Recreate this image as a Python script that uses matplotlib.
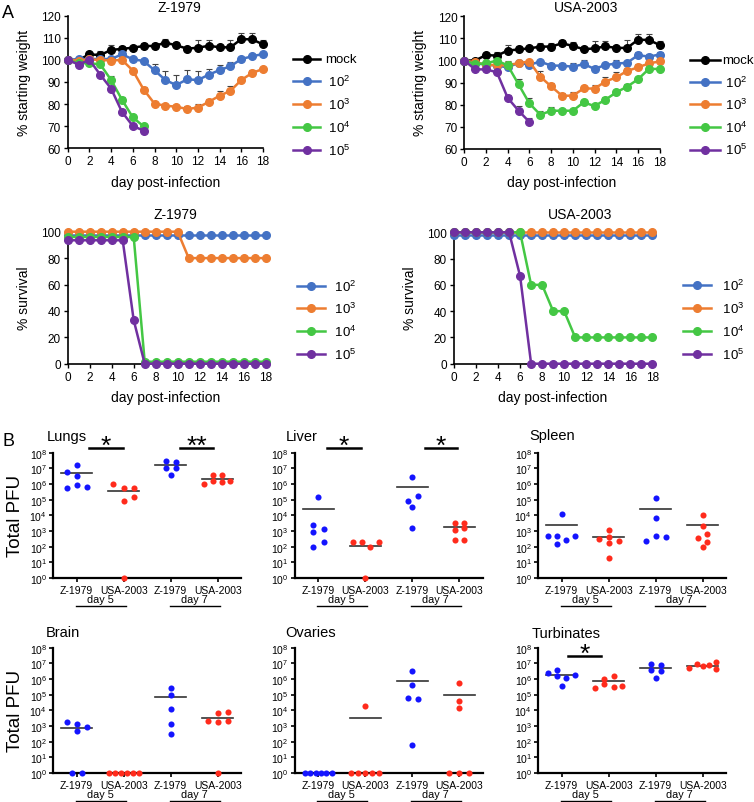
import numpy as np
import matplotlib
matplotlib.use('Agg')
import matplotlib.pyplot as plt
from matplotlib.transforms import blended_transform_factory

plt.rcParams['font.family'] = ['Liberation Sans', 'DejaVu Sans']

# ---------------- data: panel A, weight (% of starting weight) ----------------
days = list(range(19))
mock = [100, 100, 102.5, 102.2, 104.5, 105, 105.5, 106.3, 106.3, 107.8, 106.6, 105.1, 105.5, 106.4, 105.7, 105.7, 109.4, 109.3, 107]
mock_err = [0.3, 0.8, 1.0, 1.7, 2.4, 1.5, 1.0, 1.5, 1.5, 1.5, 1.6, 0.5, 3.4, 2.4, 0.5, 3.4, 2.7, 2.7, 2.0]

z_1e2 = [100, 100.3, 100.4, 100.4, 100.4, 102.5, 100.3, 99.5, 95.3, 90.9, 88.6, 91.2, 90.9, 93.3, 95.4, 97.1, 100.4, 101.6, 102.7]
z_1e3 = [100, 99.7, 100.2, 100, 99.7, 100, 95.2, 86.6, 80.2, 79.3, 78.8, 77.8, 78.4, 81, 83.8, 86, 90.9, 94.1, 95.9]
z_1e4 = [100, 98.5, 98.5, 98, 90.9, 82, 74, 69.9]
z_1e5 = [100, 97.9, 100, 93.3, 87, 76.5, 70.1, 68]
z_1e2_err = [0, 0.5, 0.5, 0.5, 0.5, 1.0, 0.5, 0.8, 3.0, 4.2, 4.5, 4.2, 3.9, 2.5, 2.5, 2.0, 1.0, 0.8, 0.5]
z_1e3_err = [0, 0.5, 0.5, 0.5, 0.5, 0.5, 0.8, 1.0, 0.8, 0.8, 1.0, 1.5, 1.5, 1.5, 2.3, 2.0, 1.5, 1.5, 0.8]
z_1e4_err = [0, 0.5, 0.5, 0.8, 1.8, 1.0, 1.0, 1.0]
z_1e5_err = [0, 0.5, 0.5, 0.8, 1.0, 1.0, 1.0, 0.8]

u_1e2 = [100, 98.8, 98.1, 97.7, 96.9, 99, 98.1, 99.5, 97.7, 97.7, 97.2, 98.4, 96.2, 98, 98.6, 99, 102.4, 101.8, 102.7]
u_1e3 = [100, 99.2, 98.1, 97.9, 97.8, 98.9, 99.5, 92.7, 88.3, 84.1, 84.1, 87.4, 87.3, 90.5, 92.4, 95.3, 96.9, 98.7, 99.6]
u_1e4 = [100, 98.4, 98.7, 100, 97.8, 89.2, 80.6, 75.5, 77.3, 77.3, 77.3, 81.1, 79.4, 82.3, 85.6, 88.2, 91.5, 96.2, 96.2]
u_1e5 = [100, 96, 96, 94.7, 83.1, 77.3, 72.2]
u_1e2_err = [0, 0.5, 0.5, 0.5, 0.5, 0.8, 0.5, 0.8, 1.0, 1.0, 1.5, 2.0, 1.5, 1.0, 1.5, 1.0, 1.5, 1.0, 1.0]
u_1e3_err = [0, 0.5, 0.5, 0.5, 0.5, 0.5, 0.5, 2.5, 1.5, 1.0, 1.5, 1.0, 1.5, 2.0, 2.5, 1.5, 1.5, 1.5, 1.0]
u_1e4_err = [0, 0.5, 0.5, 0.5, 1.8, 2.5, 2.5, 1.5, 1.5, 1.0, 1.0, 1.0, 1.0, 1.0, 1.0, 1.0, 1.0, 1.0, 1.0]
u_1e5_err = [0, 0.5, 0.5, 0.8, 1.5, 2.0, 2.0]

# ---------------- data: panel A, survival (%) ----------------
sz_1e2 = [97.5, 97.5, 97.5, 97.5, 97.5, 97.5, 97.5, 97.5, 97.5, 97.5, 97.5, 97.5, 97.5, 97.5, 97.5, 97.5, 97.5, 97.5, 97.5]
sz_1e3 = [100, 100, 100, 100, 100, 100, 100, 100, 100, 100, 100, 80, 80, 80, 80, 80, 80, 80, 80]
sz_1e4 = [96, 96, 96, 96, 96, 96, 96, 1.5, 1.5, 1.5, 1.5, 1.5, 1.5, 1.5, 1.5, 1.5, 1.5, 1.5, 1.5]
sz_1e5 = [93.5, 93.5, 93.5, 93.5, 93.5, 93.5, 33, 0, 0, 0, 0, 0, 0, 0, 0, 0, 0, 0, 0]

su_1e2 = [98, 98, 98, 98, 98, 98, 98, 98, 98, 98, 98, 98, 98, 98, 98, 98, 98, 98, 98]
su_1e3 = [100, 100, 100, 100, 100, 100, 100, 100, 100, 100, 100, 100, 100, 100, 100, 100, 100, 100, 100]
su_1e4 = [100, 100, 100, 100, 100, 100, 100, 60, 60, 40, 40, 20, 20, 20, 20, 20, 20, 20, 20]
su_1e5 = [100, 100, 100, 100, 100, 100, 66.7, 0, 0, 0, 0, 0, 0, 0, 0, 0, 0, 0, 0]

dose_labels = ['mock', ' $\\mathdefault{10^{2}}$', ' $\\mathdefault{10^{3}}$', ' $\\mathdefault{10^{4}}$', ' $\\mathdefault{10^{5}}$']

# ---------------- data: panel B, log10 total PFU ----------------
groups = ['Z-1979', 'USA-2003', 'Z-1979', 'USA-2003']
organs = ['Lungs', 'Liver', 'Spleen', 'Brain', 'Ovaries', 'Turbinates']

lungs = [[7.23, 6.74, 6.53, 5.74, 5.96, 5.83], [5.98, 5.72, 5.72, 4.94, 5.19, 0],
         [7.47, 7.43, 7.02, 7.02, 6.6], [6.0, 6.6, 6.6, 6.21, 6.15, 6.21]]
liver = [[5.19, 3.36, 3.11, 2.94, 2.3, 1.96], [2.3, 2.3, 2.3, 1.96, 0],
         [6.45, 4.94, 5.21, 4.51, 3.21], [3.51, 3.51, 3.09, 3.19, 2.45, 2.45]]
spleen = [[4.06, 2.66, 2.7, 2.66, 2.4, 2.17], [3.06, 2.51, 2.64, 2.34, 2.21, 1.28],
          [5.09, 3.81, 2.66, 2.64, 2.38], [4.02, 3.3, 2.81, 2.57, 2.32, 1.96]]
brain = [[3.23, 3.13, 2.96, 2.7, 0, 0], [0, 0, 0, 0, 0, 0],
         [5.4, 5.0, 4.09, 3.11, 2.49], [3.3, 3.81, 3.87, 3.28, 3.3, 0]]
ovaries = [[0, 0, 0, 0, 0, 0], [4.28, 0, 0, 0, 0, 0],
           [6.49, 5.62, 4.81, 4.7, 1.79], [5.72, 4.6, 4.15, 0, 0, 0]]
turbinates = [[6.4, 6.57, 6.19, 6.09, 6.26, 5.53], [5.43, 6.02, 6.17, 5.68, 5.49, 5.55],
              [6.98, 6.91, 6.55, 6.49, 6.06], [6.68, 6.94, 6.81, 6.89, 7.06, 6.64]]

lungs_med = [6.68, 5.55, 7.21, 6.34]
liver_med = [4.43, 2.04, 5.79, 3.28]
spleen_med = [3.36, 2.6, 4.43, 3.36]
brain_med = [2.89, None, 4.85, 3.53]
ovaries_med = [None, 3.53, 5.87, 4.98]
turbinates_med = [6.26, 5.85, 6.70, 6.85]

# horizontal spread of the dots (in dot widths)
lungs_dx = [[0, -1, 0, -1, 0, 1.07], [-1.07, 0, 1, 0, 1, 0], [-0.5, 0.53, -0.5, 0.53, 0], [-1.33, -0.5, 0.43, -0.5, 0.43, 1.27]]
liver_dx = [[0, -0.5, 0.53, -0.5, 0.53, -0.5], [-1.27, -0.37, 1.37, 0.5, 0], [0, -0.43, 0.53, 0, 0], [-0.47, 0.5, -0.47, 0.5, -0.47, 0.5]]
spleen_dx = [[0, -1.33, -0.43, 1.3, 0.43, -0.43], [0, -1, 0, 1, 0, 0], [0, 0, 0, 1, -1], [0, 0, 0.47, -0.5, 0.47, 0]]
brain_dx = [[-1, 0, 1, 0, -0.5, 0.5], [-1.5, -0.9, -0.3, 0.3, 0.9, 1.5], [0, 0, 0, 0, 0], [-1, 0, 1, 0, 1, 0]]
ovaries_dx = [[-1.33, -0.8, -0.27, 0.27, 0.8, 1.33], [0, -1.4, -0.7, 0, 0.7, 1.37], [0, 0, -0.47, 0.53, 0], [0, 0, 0, -1, 0, 1]]
turbinates_dx = [[-1.33, -0.43, -0.43, 0.43, 1.3, 0], [-1.33, -0.43, 0.5, -0.43, 0.5, 1.33], [-0.5, 0.5, -0.5, 0.5, 0], [-1.33, -0.6, 0, 0.67, 1.33, 1.33]]

# significance bars: (x start, x end, log10 height, label)
lungs_sig = [(1.26, 1.99, 8.32, '*'), (3.2, 3.9, 8.32, '**')]
liver_sig = [(1.18, 1.9, 8.32, '*'), (3.26, 3.96, 8.32, '*')]
turbinates_sig = [(1.13, 1.84, 7.47, '*')]

# ---------------- figure ----------------
W, H = 754, 803
fig = plt.figure(figsize=(W / 100, H / 100), dpi=100)


def axes_px(x0, x1, y_top, y_bot):
    return fig.add_axes([x0 / W, 1 - y_bot / H, (x1 - x0) / W, (y_bot - y_top) / H])


def ftext(x, y, s, **kw):
    fig.text(x / W, 1 - y / H, s, **kw)


colors = ['#000000', '#4472C4', '#ED7D31', '#44C744', '#7030A0']


def style_a(ax, ylim, yticks):
    ax.set_xlim(0, 18)
    ax.set_ylim(*ylim)
    ax.set_xticks(range(0, 19, 2))
    ax.set_yticks(yticks)
    for s in ['top', 'right']:
        ax.spines[s].set_visible(False)
    for s in ['left', 'bottom']:
        ax.spines[s].set_linewidth(1.2)
    ax.tick_params(labelsize=8.5, length=3, width=1, pad=2)


def legend_px(x0, x1, xt, ys, cols, labels):
    for y, c, lab in zip(ys, cols, labels):
        fig.add_artist(plt.Line2D([x0 / W, x1 / W], [1 - y / H, 1 - y / H], color=c, lw=1.8,
                                  transform=fig.transFigure))
        fig.add_artist(plt.Line2D([(x0 + x1) / 2 / W], [1 - y / H], color=c, marker='o', ms=5.5,
                                  transform=fig.transFigure))
        ftext(xt, y, lab, fontsize=9.5, va='center', ha='left')


def weight_panel(ax, series, errs):
    for i, (y, e) in enumerate(zip(series, errs)):
        d = days[:len(y)]
        ax.errorbar(d, y, yerr=[np.zeros(len(e)), e], fmt='none', ecolor='#444444',
                    elinewidth=0.8, capsize=2.5, capthick=0.8, zorder=2, clip_on=False)
        ax.plot(d, y, color=colors[i], marker='o', ms=5.5, lw=1.8, zorder=3 + i, clip_on=False)
    style_a(ax, (60, 120), range(60, 121, 10))


wl = axes_px(67.7, 263, 16.7, 149.3)
weight_panel(wl, [mock, z_1e2, z_1e3, z_1e4, z_1e5],
             [mock_err, z_1e2_err, z_1e3_err, z_1e4_err, z_1e5_err])
wr = axes_px(464.3, 659.7, 17.3, 150)
weight_panel(wr, [mock, u_1e2, u_1e3, u_1e4, u_1e5],
             [mock_err, u_1e2_err, u_1e3_err, u_1e4_err, u_1e5_err])


def surv_panel(ax, series):
    for i, y in enumerate(series):
        ax.plot(days, y, color=colors[i + 1], marker='o', ms=5.5, lw=1.8, zorder=3 + i, clip_on=False)
    style_a(ax, (0, 100), range(0, 101, 20))


sl = axes_px(67.7, 265.7, 232.7, 364.7)
surv_panel(sl, [sz_1e2, sz_1e3, sz_1e4, sz_1e5])
sr = axes_px(454, 652.3, 233.3, 364.7)
surv_panel(sr, [su_1e2, su_1e3, su_1e4, su_1e5])

# panel A text
ftext(8, 14, 'A', fontsize=13, ha='center', va='center')
ftext(179.5, 8, 'Z-1979', fontsize=10, ha='center', va='center')
ftext(585.7, 8.5, 'USA-2003', fontsize=10, ha='center', va='center')
ftext(175, 215, 'Z-1979', fontsize=10, ha='center', va='center')
ftext(580, 215, 'USA-2003', fontsize=10, ha='center', va='center')
for x, y in [(165.5, 183), (561.5, 183), (166, 398), (553, 398)]:
    ftext(x, y, 'day post-infection', fontsize=10, ha='center', va='center')
ftext(24, 83, '% starting weight', fontsize=10, rotation=90, ha='center', va='center')
ftext(420, 82.5, '% starting weight', fontsize=10, rotation=90, ha='center', va='center')
ftext(24, 298, '% survival', fontsize=10, rotation=90, ha='center', va='center')
ftext(410, 298, '% survival', fontsize=10, rotation=90, ha='center', va='center')

legend_px(293, 320, 325, [60, 82, 105, 128, 151], colors, dose_labels)
legend_px(690, 720, 722, [61, 83.3, 105.3, 128, 150.7], colors, dose_labels)
legend_px(297, 325, 331, [287, 309, 332, 355], colors[1:], dose_labels[1:])
legend_px(683, 711, 719, [286, 309.3, 332, 355], colors[1:], dose_labels[1:])

# ---------------- panel B ----------------
organ_data = [lungs, liver, spleen, brain, ovaries, turbinates]
organ_med = [lungs_med, liver_med, spleen_med, brain_med, ovaries_med, turbinates_med]
organ_dx = [lungs_dx, liver_dx, spleen_dx, brain_dx, ovaries_dx, turbinates_dx]
organ_sig = [lungs_sig, liver_sig, [], [], [], turbinates_sig]

col_x = [53.2, 294.8, 538.2]
row_y = [(453.7, 579), (648.7, 774)]
title_pos = [(46.7, 437), (285.7, 437), (529.3, 436), (45.7, 633), (285.7, 633), (531.7, 634)]
dot_step = 0.213
dot_cols = ['#1414FF', '#FF2B1C', '#1414FF', '#FF2B1C']

for k, organ in enumerate(organs):
    r, c = divmod(k, 3)
    ax = axes_px(col_x[c], col_x[c] + 188, row_y[r][0], row_y[r][1])
    ax.set_yscale('log')
    for g in range(4):
        vals = np.power(10.0, organ_data[k][g])
        xs = g + 1 + np.array(organ_dx[k][g]) * dot_step
        ax.plot(xs, vals, 'o', color=dot_cols[g], ms=4.4, mec='none', zorder=4, clip_on=False)
        m = organ_med[k][g]
        if m is not None:
            ax.plot([g + 1 - 0.33, g + 1 + 0.33], [10 ** m, 10 ** m], color='#333333', lw=1.2, zorder=3)
    ax.set_xlim(0.5, 4.5)
    ax.set_ylim(1, 1e8)
    ax.set_yticks([10.0 ** i for i in range(9)])
    ax.minorticks_off()
    ax.set_xticks([1, 2, 3, 4])
    ax.set_xticklabels(groups)
    for s in ['top', 'right']:
        ax.spines[s].set_visible(False)
    for s in ['left', 'bottom']:
        ax.spines[s].set_linewidth(1.6)
    ax.tick_params(axis='y', labelsize=7.5, length=3, width=1.2, pad=1.5)
    ax.tick_params(axis='x', labelsize=7.5, length=3, width=1.2, pad=2)

    tr = blended_transform_factory(ax.transData, fig.transFigure)
    y_day = row_y[r][1] + 21
    for xc, lab in [(1.5, 'day 5'), (3.5, 'day 7')]:
        ax.text(xc, 1 - y_day / H, lab, transform=tr, fontsize=7.8, ha='center', va='center')
        ax.plot([xc - 0.52, xc + 0.54], [1 - (y_day + 6.5) / H] * 2, transform=tr,
                color='black', lw=1.0, clip_on=False)

    for x0, x1, yl, lab in organ_sig[k]:
        ax.plot([x0, x1], [10 ** yl, 10 ** yl], color='black', lw=1.8, clip_on=False)
        ax.annotate(lab, xy=((x0 + x1) / 2, 10 ** yl), xytext=(0, 1.5), textcoords='offset points',
                    ha='center', va='center', fontsize=19, annotation_clip=False)

    ftext(title_pos[k][0], title_pos[k][1], organ, fontsize=10.5, ha='left', va='center')

ftext(8, 442, 'B', fontsize=13, ha='center', va='center')
ftext(16, 516, 'Total PFU', fontsize=13.5, rotation=90, ha='center', va='center')
ftext(16, 711, 'Total PFU', fontsize=13.5, rotation=90, ha='center', va='center')

fig.savefig('out.png', dpi=100)
